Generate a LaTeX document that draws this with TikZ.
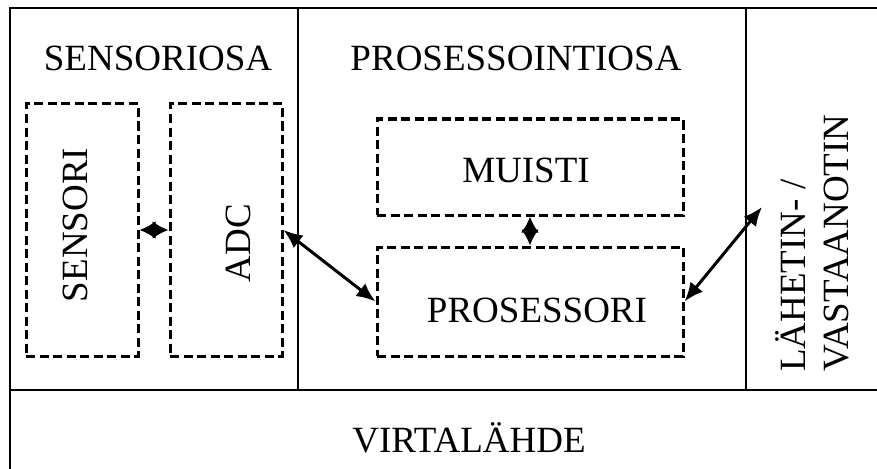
\documentclass[tikz,border=0pt]{standalone}
\usepackage{fontspec}
\setmainfont{Liberation Serif}
\usetikzlibrary{arrows.meta}
\begin{document}
\begin{tikzpicture}[x=1pt,y=-1pt,
  frame/.style={line width=2.4pt},
  unit/.style={draw,dashed,line width=3pt,dash pattern=on 9pt off 4.5pt,inner sep=0pt},
  lbl/.style={inner sep=0pt,font=\fontsize{37}{43}\selectfont},
  link/.style={line width=3pt,{Latex[length=19pt,width=16pt]}-{Latex[length=19pt,width=16pt]}},
  joint/.style={line width=3pt,{Latex[length=16pt,width=18pt]}-{Latex[length=16pt,width=18pt]}}]
\useasboundingbox (0,0) rectangle (877,468);
\clip (0,0) rectangle (877,468);
% outer frame and section dividers
\draw[frame] (10,480) -- (10,8) -- (900,8);
\draw[frame] (10,390) -- (900,390);
\draw[frame] (298,8) -- (298,390);
\draw[frame] (746,8) -- (746,390);
% section titles
\node[lbl,anchor=base] (sensoriosa) at (158,71) {SENSORIOSA};
\node[lbl,anchor=base] (prosessointiosa) at (516,71) {PROSESSOINTIOSA};
\node[lbl,anchor=base] (virtalahde) at (469,452) {VIRTALÄHDE};
% dashed units
\node[unit,minimum width=112pt,minimum height=252pt] (sensori) at (82,230) {};
\node[unit,minimum width=112pt,minimum height=252pt] (adc) at (226,230) {};
\node[unit,minimum width=306pt,minimum height=96pt] (muisti) at (530,167) {};
\node[unit,minimum width=306pt,minimum height=109pt] (proc) at (530,301.5) {};
% unit labels
\node[lbl,rotate=90,anchor=base] (sensorit) at (87,225) {SENSORI};
\node[lbl,rotate=90,anchor=base] (adct) at (250,243) {ADC};
\node[lbl,anchor=base] (muistit) at (526,182) {MUISTI};
\node[lbl,anchor=base] (proct) at (537,322) {PROSESSORI};
\node[lbl,rotate=90,anchor=south west,align=left] (radio) at (849,372) {LÄHETIN- /\\VASTAANOTIN};
% connections
\coordinate (txend) at (762,207);
\draw[joint] (sensori.east) -- (adc.west);
\draw[joint] (muisti.south) -- (proc.north);
\draw[link] (adc.east) -- (proc.west);
\draw[link] (proc.east) -- (txend);
\end{tikzpicture}
\end{document}
